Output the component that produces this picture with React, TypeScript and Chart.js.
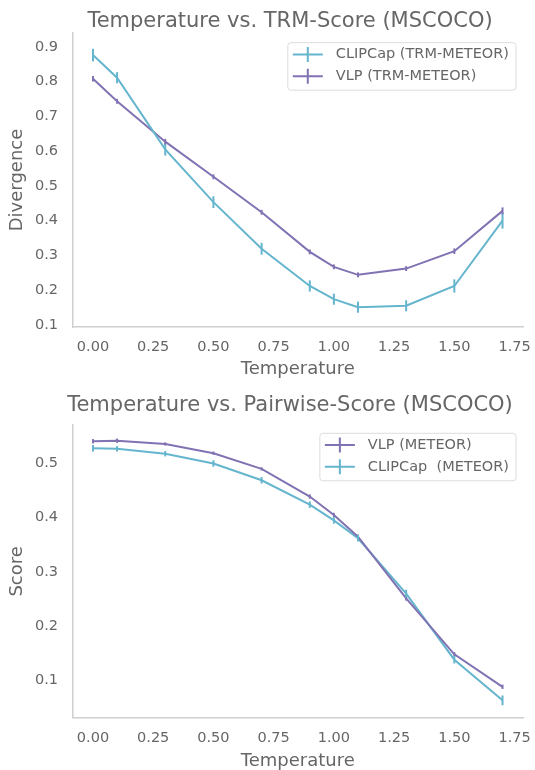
import React, { useEffect, useRef } from "react";
import { Chart, registerables } from "chart.js";

Chart.register(...registerables);

// ---------- data ----------
const temperatures = [0, 0.1, 0.3, 0.5, 0.7, 0.9, 1.0, 1.1, 1.3, 1.5, 1.7];
const xTicks = [0, 0.25, 0.5, 0.75, 1.0, 1.25, 1.5, 1.75];

// Top chart: TRM-Score (Divergence)
const trmClip = [0.876, 0.811, 0.605, 0.453, 0.319, 0.212, 0.174, 0.151, 0.155, 0.212, 0.4];
const trmClipErr = [0.018, 0.016, 0.018, 0.017, 0.017, 0.016, 0.016, 0.016, 0.016, 0.019, 0.023];
const trmVlp = [0.808, 0.743, 0.627, 0.526, 0.424, 0.31, 0.267, 0.244, 0.262, 0.312, 0.428];
const trmVlpErr = [0.008, 0.007, 0.008, 0.007, 0.007, 0.007, 0.007, 0.007, 0.007, 0.008, 0.01];
const trmYTicks = [0.1, 0.2, 0.3, 0.4, 0.5, 0.6, 0.7, 0.8, 0.9];

// Bottom chart: Pairwise-Score
const pairVlp = [0.541, 0.542, 0.536, 0.519, 0.49, 0.439, 0.405, 0.365, 0.251, 0.148, 0.088];
const pairVlpErr = [0.004, 0.004, 0.003, 0.003, 0.003, 0.004, 0.004, 0.004, 0.004, 0.004, 0.004];
const pairClip = [0.528, 0.527, 0.518, 0.5, 0.469, 0.424, 0.395, 0.362, 0.26, 0.138, 0.063];
const pairClipErr = [0.006, 0.005, 0.005, 0.006, 0.006, 0.006, 0.006, 0.006, 0.007, 0.007, 0.009];
const pairYTicks = [0.1, 0.2, 0.3, 0.4, 0.5];

// ---------- style ----------
const FONT = "'DejaVu Sans', sans-serif";
const TEXT = "#666666";
const SPINE = "#cfcfcf";
const CYAN = "#64B5CD";
const PURPLE = "#8172B3";

Chart.defaults.font.family = FONT;

type Series = { label: string; values: number[]; errors: number[]; color: string };

const errorBarPlugin = {
  id: "errorBars",
  afterDatasetsDraw(chart: any) {
    const ctx = chart.ctx;
    const xs = chart.scales.x;
    const ys = chart.scales.y;
    chart.data.datasets.forEach((ds: any) => {
      ctx.save();
      ctx.strokeStyle = ds.borderColor;
      ctx.lineWidth = 2;
      ds.data.forEach((p: any, j: number) => {
        const e = ds.errors[j];
        const x = xs.getPixelForValue(p.x);
        ctx.beginPath();
        ctx.moveTo(x, ys.getPixelForValue(p.y - e));
        ctx.lineTo(x, ys.getPixelForValue(p.y + e));
        ctx.stroke();
      });
      ctx.restore();
    });
  },
};

const boxLegendPlugin = {
  id: "boxLegend",
  afterDraw(chart: any) {
    const o = chart.options.plugins.boxLegend;
    if (!o) return;
    const ctx = chart.ctx;
    const area = chart.chartArea;
    ctx.save();
    ctx.font = `14.5px ${FONT}`;
    const labels = chart.data.datasets.map((d: any) => d.label);
    const textW = Math.max(...labels.map((l: string) => ctx.measureText(l).width));
    const padL = 5, handle = 30, gap = 13, padR = 7, rowH = 21.7;
    const w = padL + handle + gap + textW + padR;
    const h = 47.5;
    const right = area.right - 7;
    const left = right - w;
    const top = area.top + o.topOffset;
    const r = 3;
    ctx.beginPath();
    ctx.moveTo(left + r, top);
    ctx.lineTo(right - r, top);
    ctx.arcTo(right, top, right, top + r, r);
    ctx.lineTo(right, top + h - r);
    ctx.arcTo(right, top + h, right - r, top + h, r);
    ctx.lineTo(left + r, top + h);
    ctx.arcTo(left, top + h, left, top + h - r, r);
    ctx.lineTo(left, top + r);
    ctx.arcTo(left, top, left + r, top, r);
    ctx.closePath();
    ctx.fillStyle = "rgba(255,255,255,0.85)";
    ctx.fill();
    ctx.strokeStyle = "#dcdcdc";
    ctx.lineWidth = 1;
    ctx.stroke();
    chart.data.datasets.forEach((ds: any, i: number) => {
      const y = top + 11.8 + i * rowH;
      const hx = left + padL;
      ctx.strokeStyle = ds.borderColor;
      ctx.lineWidth = 2;
      ctx.beginPath();
      ctx.moveTo(hx, y);
      ctx.lineTo(hx + handle, y);
      ctx.moveTo(hx + handle / 2, y - 7.5);
      ctx.lineTo(hx + handle / 2, y + 7.5);
      ctx.stroke();
      ctx.fillStyle = TEXT;
      ctx.textAlign = "left";
      ctx.textBaseline = "middle";
      ctx.fillText(ds.label, hx + handle + gap, y);
    });
    ctx.restore();
  },
};

const headingPlugin = {
  id: "heading",
  afterDraw(chart: any) {
    const o = chart.options.plugins.heading;
    if (!o) return;
    const ctx = chart.ctx;
    ctx.save();
    ctx.font = `21px ${FONT}`;
    ctx.fillStyle = TEXT;
    ctx.textAlign = "center";
    ctx.textBaseline = "alphabetic";
    ctx.fillText(o.text, o.x, o.y);
    ctx.restore();
  },
};

function makeConfig(opts: {
  title: string;
  titleY: number;
  yLabel: string;
  series: Series[];
  yMin: number;
  yMax: number;
  yTicks: number[];
  top: number;
  xAxisHeight: number;
  xTitlePad: number;
  legendTop: number;
}): any {
  return {
    type: "line",
    data: {
      datasets: opts.series.map((s) => ({
        label: s.label,
        data: temperatures.map((t, i) => ({ x: t, y: s.values[i] })),
        errors: s.errors,
        borderColor: s.color,
        backgroundColor: s.color,
        borderWidth: 2,
        pointRadius: 0,
        tension: 0,
        fill: false,
      })),
    },
    options: {
      animation: false,
      responsive: false,
      maintainAspectRatio: false,
      layout: { padding: { top: opts.top, left: 0, right: 12, bottom: 0 } },
      plugins: {
        legend: { display: false },
        title: { display: false },
        tooltip: { enabled: false },
        heading: { text: opts.title, x: 290, y: opts.titleY },
        boxLegend: { topOffset: opts.legendTop },
      },
      scales: {
        x: {
          type: "linear",
          min: -0.085,
          max: 1.785,
          afterBuildTicks: (s: any) => {
            s.ticks = xTicks.map((v) => ({ value: v }));
          },
          afterFit: (s: any) => {
            s.height = opts.xAxisHeight;
            s.paddingLeft = 0;
            s.paddingRight = 0;
          },
          ticks: {
            autoSkip: false,
            maxRotation: 0,
            color: TEXT,
            padding: 12,
            font: { size: 14.5, family: FONT },
            callback: (v: any) => Number(v).toFixed(2),
          },
          grid: { display: false, drawTicks: false },
          border: { display: true, color: SPINE, width: 1.5 },
          title: {
            display: true,
            text: "Temperature",
            color: TEXT,
            font: { size: 18, family: FONT },
            padding: { top: 0, bottom: opts.xTitlePad },
          },
        },
        y: {
          type: "linear",
          min: opts.yMin,
          max: opts.yMax,
          afterBuildTicks: (s: any) => {
            s.ticks = opts.yTicks.map((v) => ({ value: v }));
          },
          afterFit: (s: any) => {
            s.width = 72.5;
            s.paddingTop = 0;
            s.paddingBottom = 0;
          },
          ticks: {
            color: TEXT,
            padding: 14.5,
            font: { size: 14.5, family: FONT },
            callback: (v: any) => Number(v).toFixed(1),
          },
          grid: { display: false, drawTicks: false },
          border: { display: true, color: SPINE, width: 1.5 },
          title: {
            display: true,
            text: opts.yLabel,
            color: TEXT,
            font: { size: 18, family: FONT },
            padding: { top: 7, bottom: 0 },
          },
        },
      },
    },
    plugins: [errorBarPlugin, boxLegendPlugin, headingPlugin],
  };
}

function ChartCanvas({ config, top }: { config: any; top: number }) {
  const ref = useRef<HTMLCanvasElement | null>(null);
  useEffect(() => {
    if (!ref.current) return;
    const chart = new Chart(ref.current, config);
    return () => chart.destroy();
  }, [config]);
  return (
    <canvas
      ref={ref}
      width={535}
      height={385}
      style={{ position: "absolute", left: 0, top, width: 535, height: 385 }}
    />
  );
}

const topConfig = makeConfig({
  title: "Temperature vs. TRM-Score (MSCOCO)",
  titleY: 27,
  yLabel: "Divergence",
  series: [
    { label: "CLIPCap (TRM-METEOR)", values: trmClip, errors: trmClipErr, color: CYAN },
    { label: "VLP (TRM-METEOR)", values: trmVlp, errors: trmVlpErr, color: PURPLE },
  ],
  yMin: 0.094,
  yMax: 0.9395,
  yTicks: trmYTicks,
  top: 33,
  xAxisHeight: 58,
  xTitlePad: 5,
  legendTop: 9.7,
});

const bottomConfig = makeConfig({
  title: "Temperature vs. Pairwise-Score (MSCOCO)",
  titleY: 26,
  yLabel: "Score",
  series: [
    { label: "VLP (METEOR)", values: pairVlp, errors: pairVlpErr, color: PURPLE },
    { label: "CLIPCap  (METEOR)", values: pairClip, errors: pairClipErr, color: CYAN },
  ],
  yMin: 0.031,
  yMax: 0.571,
  yTicks: pairYTicks,
  top: 40,
  xAxisHeight: 52.3,
  xTitlePad: -2,
  legendTop: 8.3,
});

export default function App() {
  return (
    <div style={{ position: "absolute", left: 0, top: 0, width: 535, height: 770, background: "#fff" }}>
      <ChartCanvas config={topConfig} top={0} />
      <ChartCanvas config={bottomConfig} top={385} />
    </div>
  );
}
